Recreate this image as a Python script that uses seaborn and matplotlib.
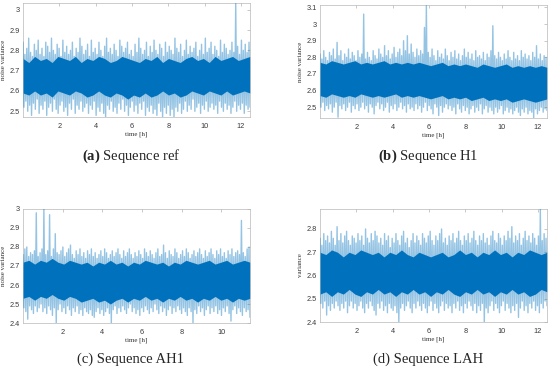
import numpy as np
import matplotlib
matplotlib.use('Agg')
import matplotlib.pyplot as plt
import seaborn as sns
from matplotlib.ticker import FuncFormatter

BLUE = '#0072BD'

# duration of each recording [h]
durations = [12.5, 12.5, 11.45, 12.5]
captions = [r'$\mathbf{(a)}$ Sequence ref', r'$\mathbf{(b)}$ Sequence H1',
            '(c) Sequence AH1', '(d) Sequence LAH']
ylabels = ['noise variance', 'noise variance', 'noise variance', 'variance']
ylims = [(2.472, 3.033), (2.435, 3.115), (2.4, 3.0), (2.4, 2.886)]
yticks = [[2.5, 2.6, 2.7, 2.8, 2.9, 3.0],
          [2.5, 2.6, 2.7, 2.8, 2.9, 3.0, 3.1],
          [2.4, 2.5, 2.6, 2.7, 2.8, 2.9, 3.0],
          [2.4, 2.5, 2.6, 2.7, 2.8]]
xticks = [[2, 4, 6, 8, 10, 12], [2, 4, 6, 8, 10, 12],
          [2, 4, 6, 8, 10], [2, 4, 6, 8, 10, 12]]

# local peaks / troughs of the noise variance traces
a_hi = [2.84, 2.78, 2.81, 2.86, 2.79, 2.77, 2.83, 2.80, 2.85, 2.78,
        2.81, 2.77, 2.84, 2.82, 2.79, 2.86, 2.80, 2.78, 2.83, 2.81,
        2.77, 2.85, 2.79, 2.82, 2.78, 2.80, 2.84, 2.77, 2.81, 2.79,
        2.86, 2.82, 2.78, 2.80, 2.83, 2.77, 2.85, 2.79, 2.81, 2.78,
        2.84, 2.80, 2.77, 2.82, 2.86, 2.79, 2.81, 2.78, 2.83, 2.80,
        2.77, 2.85, 2.82, 2.79, 2.81, 2.84, 2.78, 2.80, 2.77, 2.83,
        2.79, 2.86, 2.81, 2.78, 2.80, 2.84, 2.77, 2.82, 2.79, 2.85,
        2.80, 2.78, 2.83, 2.81, 2.77, 2.84, 2.79, 2.82, 2.80, 2.78,
        2.86, 2.81, 2.79, 2.83, 2.77, 2.80, 2.85, 2.78, 2.82, 2.79,
        2.81, 2.84, 2.77, 2.80, 2.83, 2.78, 2.86, 2.79, 2.81, 2.84,
        2.78, 2.82, 2.80, 2.77, 2.85, 2.79, 2.83, 2.81, 2.78, 2.80,
        2.84, 2.79, 3.03, 2.82, 2.78, 2.85, 2.80, 2.83, 2.79, 2.84]
a_lo = [2.52, 2.55, 2.50, 2.53, 2.48, 2.54, 2.51, 2.56, 2.49, 2.53,
        2.51, 2.55, 2.48, 2.52, 2.54, 2.50, 2.56, 2.51, 2.49, 2.53,
        2.55, 2.50, 2.52, 2.48, 2.54, 2.51, 2.56, 2.49, 2.53, 2.51,
        2.55, 2.50, 2.52, 2.54, 2.49, 2.53, 2.51, 2.55, 2.48, 2.52,
        2.50, 2.54, 2.49, 2.47, 2.53, 2.51, 2.55, 2.50, 2.52, 2.49,
        2.54, 2.51, 2.56, 2.50, 2.53, 2.48, 2.52, 2.55, 2.50, 2.53,
        2.49, 2.54, 2.51, 2.55, 2.48, 2.52, 2.50, 2.53, 2.49, 2.51,
        2.48, 2.54, 2.50, 2.47, 2.52, 2.49, 2.53, 2.48, 2.51, 2.47,
        2.52, 2.50, 2.54, 2.49, 2.51, 2.55, 2.50, 2.53, 2.51, 2.56,
        2.50, 2.52, 2.54, 2.49, 2.53, 2.51, 2.55, 2.50, 2.52, 2.54,
        2.51, 2.53, 2.49, 2.55, 2.52, 2.50, 2.54, 2.51, 2.53, 2.49,
        2.52, 2.55, 2.50, 2.53, 2.51, 2.54, 2.49, 2.53, 2.51, 2.52]
a_core_hi = [2.76, 2.74, 2.77, 2.75, 2.76, 2.74, 2.77, 2.76, 2.75, 2.77,
             2.74, 2.76, 2.75, 2.77, 2.76, 2.74, 2.75, 2.77, 2.76, 2.75,
             2.74, 2.76, 2.75, 2.77, 2.74, 2.76, 2.75, 2.74, 2.76, 2.77,
             2.75, 2.76, 2.74, 2.77, 2.75, 2.76, 2.77, 2.75, 2.76, 2.77]
a_core_lo = [2.59, 2.58, 2.60, 2.58, 2.59, 2.57, 2.60, 2.59, 2.58, 2.60,
             2.59, 2.57, 2.58, 2.60, 2.58, 2.57, 2.59, 2.58, 2.56, 2.58,
             2.57, 2.59, 2.57, 2.58, 2.60, 2.58, 2.59, 2.57, 2.58, 2.60,
             2.59, 2.58, 2.60, 2.59, 2.58, 2.60, 2.58, 2.59, 2.60, 2.59]

b_hi = [2.82, 2.79, 2.84, 2.80, 2.78, 2.83, 2.81, 2.85, 2.79, 2.89,
        2.81, 2.84, 2.78, 2.82, 2.80, 2.85, 2.79, 2.83, 2.81, 2.78,
        2.84, 2.80, 2.82, 3.06, 2.79, 2.83, 2.80, 2.78, 2.84, 2.81,
        2.79, 2.85, 2.82, 2.80, 2.87, 2.81, 2.84, 2.79, 2.82, 2.86,
        2.80, 2.83, 2.85, 2.81, 2.90, 2.84, 2.93, 2.82, 2.88, 2.83,
        2.80, 2.85, 2.81, 2.84, 2.82, 2.98, 3.11, 2.83, 2.80, 2.85,
        2.81, 2.78, 2.84, 2.80, 2.82, 2.79, 2.85, 2.81, 2.78, 2.83,
        2.80, 2.84, 2.79, 2.82, 2.78, 2.81, 2.85, 2.80, 2.83, 2.79,
        2.82, 2.78, 2.84, 2.80, 2.81, 2.79, 2.83, 2.78, 2.82, 2.80,
        2.84, 2.99, 2.81, 2.79, 2.83, 2.80, 2.78, 2.82, 2.79, 2.84,
        2.80, 2.78, 2.83, 2.79, 2.81, 2.78, 2.84, 2.80, 2.82, 2.79,
        2.81, 2.78, 2.83, 2.80, 2.87, 2.79, 2.82, 2.78, 2.81, 2.80]
b_lo = [2.50, 2.53, 2.48, 2.51, 2.49, 2.52, 2.47, 2.50, 2.53, 2.44,
        2.51, 2.49, 2.52, 2.48, 2.50, 2.53, 2.47, 2.51, 2.49, 2.52,
        2.48, 2.50, 2.53, 2.49, 2.51, 2.47, 2.52, 2.50, 2.46, 2.51,
        2.53, 2.49, 2.52, 2.48, 2.50, 2.53, 2.47, 2.51, 2.49, 2.52,
        2.48, 2.50, 2.53, 2.49, 2.51, 2.47, 2.52, 2.49, 2.50, 2.48,
        2.52, 2.49, 2.51, 2.47, 2.50, 2.53, 2.48, 2.51, 2.49, 2.46,
        2.52, 2.50, 2.45, 2.51, 2.47, 2.50, 2.52, 2.49, 2.51, 2.48,
        2.50, 2.46, 2.52, 2.49, 2.47, 2.51, 2.48, 2.50, 2.46, 2.49,
        2.51, 2.47, 2.50, 2.48, 2.52, 2.46, 2.49, 2.51, 2.47, 2.50,
        2.48, 2.46, 2.50, 2.47, 2.49, 2.51, 2.46, 2.48, 2.50, 2.47,
        2.49, 2.46, 2.48, 2.50, 2.47, 2.45, 2.49, 2.47, 2.50, 2.46,
        2.48, 2.47, 2.43, 2.49, 2.46, 2.48, 2.50, 2.47, 2.49, 2.48]
b_core_hi = [2.77, 2.76, 2.78, 2.77, 2.76, 2.77, 2.78, 2.76, 2.77, 2.76,
             2.77, 2.78, 2.76, 2.77, 2.76, 2.77, 2.76, 2.77, 2.76, 2.75,
             2.76, 2.77, 2.75, 2.76, 2.75, 2.76, 2.75, 2.74, 2.76, 2.75,
             2.74, 2.75, 2.76, 2.74, 2.75, 2.74, 2.75, 2.74, 2.75, 2.74]
b_core_lo = [2.57, 2.56, 2.58, 2.57, 2.56, 2.57, 2.56, 2.58, 2.57, 2.56,
             2.57, 2.56, 2.57, 2.58, 2.56, 2.57, 2.56, 2.57, 2.56, 2.55,
             2.56, 2.57, 2.55, 2.56, 2.55, 2.56, 2.54, 2.55, 2.56, 2.54,
             2.55, 2.54, 2.55, 2.53, 2.54, 2.55, 2.54, 2.53, 2.54, 2.55]

c_hi = [2.76, 2.79, 2.80, 2.75, 2.77, 2.76, 2.78, 2.98, 2.75, 2.77,
        2.79, 3.00, 2.76, 2.78, 2.97, 2.75, 2.79, 2.87, 2.77, 2.76,
        2.78, 2.80, 2.75, 2.77, 2.79, 2.81, 2.76, 2.74, 2.78, 2.76,
        2.79, 2.75, 2.77, 2.74, 2.78, 2.76, 2.79, 2.75, 2.77, 2.74,
        2.76, 2.78, 2.75, 2.79, 2.77, 2.74, 2.76, 2.78, 2.75, 2.77,
        2.79, 2.76, 2.74, 2.78, 2.75, 2.77, 2.79, 2.76, 2.74, 2.77,
        2.75, 2.78, 2.76, 2.74, 2.79, 2.77, 2.75, 2.78, 2.76, 2.74,
        2.77, 2.79, 2.75, 2.76, 2.81, 2.77, 2.74, 2.78, 2.76, 2.75,
        2.79, 2.77, 2.74, 2.76, 2.78, 2.75, 2.79, 2.77, 2.74, 2.76,
        2.78, 2.75, 2.77, 2.79, 2.76, 2.74, 2.78, 2.75, 2.77, 2.79,
        2.76, 2.74, 2.78, 2.76, 2.79, 2.75, 2.77, 2.74, 2.78, 2.76,
        2.79, 2.75, 2.77, 2.78, 2.76, 2.94, 2.77, 2.75, 2.79, 2.80]
c_lo = [2.48, 2.46, 2.42, 2.49, 2.47, 2.45, 2.49, 2.46, 2.48, 2.50,
        2.46, 2.48, 2.45, 2.49, 2.47, 2.44, 2.48, 2.40, 2.47, 2.50,
        2.46, 2.48, 2.45, 2.49, 2.47, 2.44, 2.48, 2.46, 2.49, 2.45,
        2.47, 2.44, 2.48, 2.46, 2.45, 2.47, 2.44, 2.43, 2.46, 2.48,
        2.45, 2.47, 2.44, 2.46, 2.48, 2.45, 2.40, 2.47, 2.49, 2.45,
        2.48, 2.46, 2.49, 2.47, 2.45, 2.48, 2.50, 2.46, 2.48, 2.45,
        2.47, 2.44, 2.48, 2.46, 2.49, 2.47, 2.45, 2.48, 2.46, 2.50,
        2.47, 2.45, 2.49, 2.46, 2.48, 2.44, 2.47, 2.49, 2.45, 2.48,
        2.46, 2.49, 2.47, 2.45, 2.48, 2.46, 2.44, 2.48, 2.46, 2.40,
        2.47, 2.45, 2.49, 2.46, 2.48, 2.44, 2.47, 2.49, 2.45, 2.48,
        2.46, 2.49, 2.45, 2.47, 2.44, 2.48, 2.46, 2.49, 2.45, 2.41,
        2.47, 2.49, 2.45, 2.48, 2.46, 2.44, 2.48, 2.46, 2.47, 2.43]
c_core_hi = [2.72, 2.73, 2.71, 2.73, 2.72, 2.74, 2.72, 2.71, 2.73, 2.72,
             2.71, 2.72, 2.70, 2.72, 2.71, 2.73, 2.71, 2.72, 2.70, 2.72,
             2.71, 2.73, 2.72, 2.71, 2.72, 2.70, 2.72, 2.71, 2.73, 2.72,
             2.71, 2.72, 2.73, 2.71, 2.72, 2.73, 2.71, 2.72, 2.73, 2.72]
c_core_lo = [2.53, 2.54, 2.52, 2.54, 2.53, 2.55, 2.53, 2.52, 2.54, 2.53,
             2.51, 2.52, 2.53, 2.51, 2.52, 2.50, 2.52, 2.53, 2.51, 2.53,
             2.52, 2.54, 2.52, 2.53, 2.51, 2.53, 2.52, 2.54, 2.52, 2.53,
             2.51, 2.53, 2.52, 2.54, 2.52, 2.53, 2.51, 2.53, 2.52, 2.53]

d_hi = [2.76, 2.73, 2.78, 2.75, 2.77, 2.74, 2.79, 2.76, 2.73, 2.81,
        2.75, 2.78, 2.74, 2.77, 2.79, 2.75, 2.73, 2.77, 2.76, 2.74,
        2.78, 2.75, 2.77, 2.73, 2.80, 2.76, 2.74, 2.78, 2.75, 2.79,
        2.77, 2.74, 2.76, 2.73, 2.78, 2.75, 2.77, 2.72, 2.76, 2.74,
        2.78, 2.75, 2.73, 2.77, 2.79, 2.74, 2.76, 2.72, 2.75, 2.78,
        2.74, 2.77, 2.75, 2.73, 2.78, 2.76, 2.74, 2.77, 2.79, 2.75,
        2.73, 2.77, 2.75, 2.78, 2.80, 2.74, 2.76, 2.73, 2.77, 2.75,
        2.78, 2.74, 2.76, 2.79, 2.75, 2.73, 2.77, 2.75, 2.78, 2.74,
        2.76, 2.79, 2.75, 2.73, 2.77, 2.75, 2.78, 2.74, 2.76, 2.73,
        2.77, 2.79, 2.75, 2.74, 2.78, 2.76, 2.73, 2.77, 2.75, 2.79,
        2.76, 2.81, 2.74, 2.77, 2.75, 2.78, 2.73, 2.76, 2.79, 2.75,
        2.77, 2.74, 2.78, 2.76, 2.73, 2.77, 2.886, 2.75, 2.78, 2.76]
d_lo = [2.48, 2.46, 2.49, 2.43, 2.47, 2.45, 2.48, 2.46, 2.49, 2.47,
        2.45, 2.48, 2.46, 2.49, 2.44, 2.47, 2.49, 2.46, 2.48, 2.45,
        2.47, 2.49, 2.46, 2.44, 2.48, 2.46, 2.49, 2.47, 2.45, 2.43,
        2.48, 2.46, 2.49, 2.45, 2.47, 2.44, 2.48, 2.46, 2.45, 2.47,
        2.44, 2.40, 2.46, 2.48, 2.45, 2.47, 2.49, 2.46, 2.44, 2.48,
        2.46, 2.49, 2.47, 2.45, 2.48, 2.46, 2.44, 2.47, 2.49, 2.45,
        2.48, 2.46, 2.44, 2.47, 2.49, 2.45, 2.48, 2.46, 2.47, 2.44,
        2.48, 2.46, 2.49, 2.45, 2.47, 2.44, 2.48, 2.46, 2.49, 2.47,
        2.45, 2.48, 2.44, 2.47, 2.45, 2.48, 2.39, 2.46, 2.44, 2.47,
        2.49, 2.45, 2.48, 2.46, 2.44, 2.47, 2.49, 2.45, 2.48, 2.46,
        2.44, 2.47, 2.45, 2.48, 2.42, 2.46, 2.49, 2.45, 2.47, 2.44,
        2.48, 2.46, 2.49, 2.45, 2.47, 2.44, 2.48, 2.46, 2.49, 2.47]
d_core_hi = [2.70, 2.69, 2.71, 2.70, 2.68, 2.70, 2.69, 2.71, 2.70, 2.69,
             2.70, 2.68, 2.70, 2.69, 2.71, 2.69, 2.68, 2.70, 2.69, 2.68,
             2.69, 2.70, 2.68, 2.69, 2.71, 2.69, 2.70, 2.68, 2.70, 2.69,
             2.71, 2.69, 2.70, 2.68, 2.70, 2.69, 2.71, 2.70, 2.69, 2.70]
d_core_lo = [2.52, 2.53, 2.51, 2.53, 2.52, 2.54, 2.52, 2.51, 2.53, 2.52,
             2.54, 2.52, 2.53, 2.51, 2.53, 2.52, 2.54, 2.52, 2.53, 2.51,
             2.53, 2.52, 2.54, 2.52, 2.51, 2.53, 2.52, 2.54, 2.52, 2.53,
             2.51, 2.53, 2.52, 2.54, 2.52, 2.53, 2.51, 2.52, 2.54, 2.53]

peaks = [a_hi, b_hi, c_hi, d_hi]
troughs = [a_lo, b_lo, c_lo, d_lo]
core_hi = [a_core_hi, b_core_hi, c_core_hi, d_core_hi]
core_lo = [a_core_lo, b_core_lo, c_core_lo, d_core_lo]

sns.set_style('white')
plt.rcParams['font.family'] = ['Liberation Sans', 'DejaVu Sans']
plt.rcParams['mathtext.fontset'] = 'custom'
plt.rcParams['mathtext.rm'] = 'Liberation Serif'
plt.rcParams['mathtext.bf'] = 'Liberation Serif:bold'

fig = plt.figure(figsize=(5.5, 3.72), dpi=100)

# axes rectangles in figure fractions
rects = [
    [0.0418, 0.6855, 0.4127, 0.3065],
    [0.5818, 0.6828, 0.4127, 0.3038],
    [0.0418, 0.1317, 0.4127, 0.3065],
    [0.5818, 0.1344, 0.4127, 0.3038],
]
caption_pos = [(0.238, 0.581), (0.778, 0.581), (0.238, 0.035), (0.778, 0.035)]

for i in range(4):
    ax = fig.add_axes(rects[i])
    dur = durations[i]

    # dense core of the trace
    t_core = np.linspace(0, dur, len(core_hi[i]))
    ax.fill_between(t_core, core_lo[i], core_hi[i], color=BLUE, lw=0, zorder=2)

    # thin excursions: alternate peaks and troughs
    series = np.column_stack([peaks[i], troughs[i]]).ravel()
    t = np.linspace(0, dur, len(series))
    sns.lineplot(x=t, y=series, ax=ax, color=BLUE, lw=1.0, alpha=0.42,
                 sort=False, estimator=None, zorder=3)

    ax.set_xlim(0, dur)
    ax.set_ylim(*ylims[i])
    ax.set_xticks(xticks[i])
    ax.set_yticks(yticks[i])
    ax.yaxis.set_major_formatter(FuncFormatter(lambda v, p: f'{v:g}'))
    ax.tick_params(direction='in', length=2, width=0.4, color='#a0a0a0',
                   labelsize=5.3, labelcolor='#3a3a3a',
                   top=True, right=True)
    ax.tick_params(axis='x', pad=4.5)
    ax.tick_params(axis='y', pad=2.5)
    for s in ax.spines.values():
        s.set_color('#b8b8b8')
        s.set_linewidth(0.5)

    ax.set_xlabel('time [h]', fontsize=5, family='Liberation Serif',
                  color='#303030', labelpad=1)
    ax.set_ylabel(ylabels[i], fontsize=5, family='Liberation Serif',
                  color='#303030', labelpad=2)

    cx, cy = caption_pos[i]
    fig.text(cx, cy, captions[i], fontsize=10.5, family='Liberation Serif',
             ha='center', va='center')

fig.savefig('out.png', dpi=100)
